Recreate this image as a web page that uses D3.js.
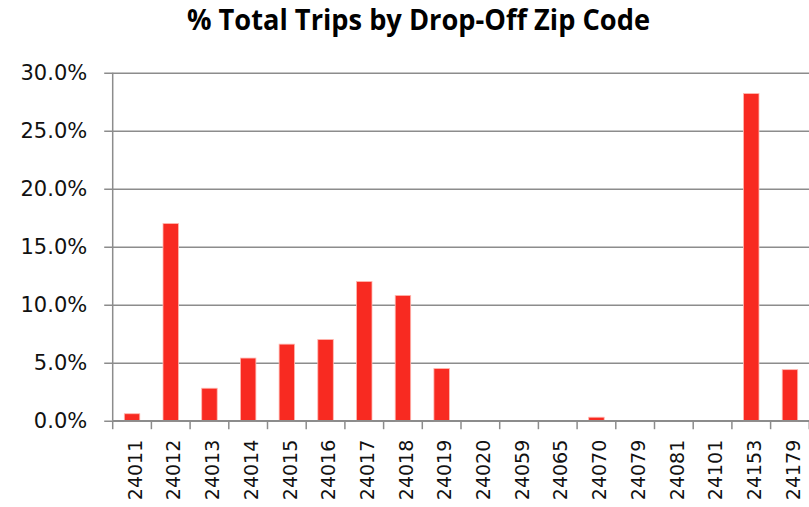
<!DOCTYPE html>
<html>
<head>
<meta charset="utf-8">
<script src="https://cdn.jsdelivr.net/npm/d3@7"></script>
<style>
  html, body { margin: 0; padding: 0; background: #fff; }
  svg { display: block; }
</style>
</head>
<body>
<svg id="chart" width="809" height="507"></svg>
<script>
// Drop-off zip codes and their share of all trips (percent)
const zipCodes = ["24011","24012","24013","24014","24015","24016","24017","24018","24019",
                  "24020","24059","24065","24070","24079","24081","24101","24153","24179"];
const tripShare = [0.6, 17.0, 2.8, 5.4, 6.6, 7.0, 12.0, 10.8, 4.5,
                   0, 0, 0, 0.3, 0, 0, 0, 28.2, 4.4];
const yTicks = [0, 5, 10, 15, 20, 25, 30];
const chartTitle = "% Total Trips by Drop-Off Zip Code";

const svg = d3.select("#chart");
const plotLeft = 112.7, plotRight = 809.3, plotTop = 72.7, plotBottom = 420.7;

const x = d3.scaleBand()
  .domain(zipCodes)
  .range([plotLeft, plotRight])
  .paddingInner(0.6)
  .paddingOuter(0.3);

const y = d3.scaleLinear().domain([0, 30]).range([plotBottom, plotTop]);

const labelFont = "'DejaVu Sans', sans-serif";

// Title
svg.append("text")
  .attr("x", 418.5)
  .attr("y", 29.5)
  .attr("text-anchor", "middle")
  .attr("font-family", "'Open Sans', sans-serif")
  .attr("font-weight", "bold")
  .attr("font-size", 29)
  .attr("textLength", 463)
  .attr("lengthAdjust", "spacingAndGlyphs")
  .attr("fill", "#000")
  .text(chartTitle);

// Horizontal gridlines with outward ticks
const yAxis = d3.axisLeft(y)
  .tickValues(yTicks)
  .tickSize(-(plotRight - plotLeft))
  .tickPadding(25.5)
  .tickFormat(d => d3.format(".1f")(d) + "%");

const gy = svg.append("g")
  .attr("transform", `translate(${plotLeft},0)`)
  .call(yAxis);
gy.select(".domain").remove();
gy.selectAll(".tick line")
  .attr("x1", -8.5)
  .attr("stroke", "#8c8c8c")
  .attr("stroke-width", 1.5);
gy.selectAll(".tick text")
  .attr("font-family", labelFont)
  .attr("font-size", 21)
  .attr("fill", "#111")
  .attr("dy", "0.33em");

// Vertical axis line
svg.append("line")
  .attr("x1", plotLeft).attr("x2", plotLeft)
  .attr("y1", plotTop).attr("y2", plotBottom)
  .attr("stroke", "#8c8c8c")
  .attr("stroke-width", 1.5);

// Bars
svg.append("g")
  .selectAll("rect")
  .data(zipCodes.map((z, i) => ({ zip: z, value: tripShare[i] })))
  .join("rect")
  .attr("x", d => x(d.zip))
  .attr("width", x.bandwidth())
  .attr("y", d => y(d.value))
  .attr("height", d => y(0) - y(d.value))
  .attr("fill", "#f82a21")
  .attr("stroke", "#ffb8b0")
  .attr("stroke-width", 0.8);

// Category axis with tick marks between bars
const step = x.step();
const boundaries = d3.range(zipCodes.length + 1).map(i => plotLeft + i * step);
svg.append("line")
  .attr("x1", plotLeft).attr("x2", plotRight)
  .attr("y1", plotBottom).attr("y2", plotBottom)
  .attr("stroke", "#8c8c8c")
  .attr("stroke-width", 1.5);
svg.append("g")
  .selectAll("line")
  .data(boundaries)
  .join("line")
  .attr("x1", d => d).attr("x2", d => d)
  .attr("y1", plotBottom).attr("y2", plotBottom + 8.5)
  .attr("stroke", "#8c8c8c")
  .attr("stroke-width", 1.5);

// Rotated zip code labels
svg.append("g")
  .selectAll("text")
  .data(zipCodes)
  .join("text")
  .attr("transform", d => `translate(${x(d) + x.bandwidth() / 2 + 3},${plotBottom + 19}) rotate(-90)`)
  .attr("text-anchor", "end")
  .attr("dy", "0.35em")
  .attr("font-family", labelFont)
  .attr("font-size", 19)
  .attr("fill", "#111")
  .text(d => d);
</script>
</body>
</html>
